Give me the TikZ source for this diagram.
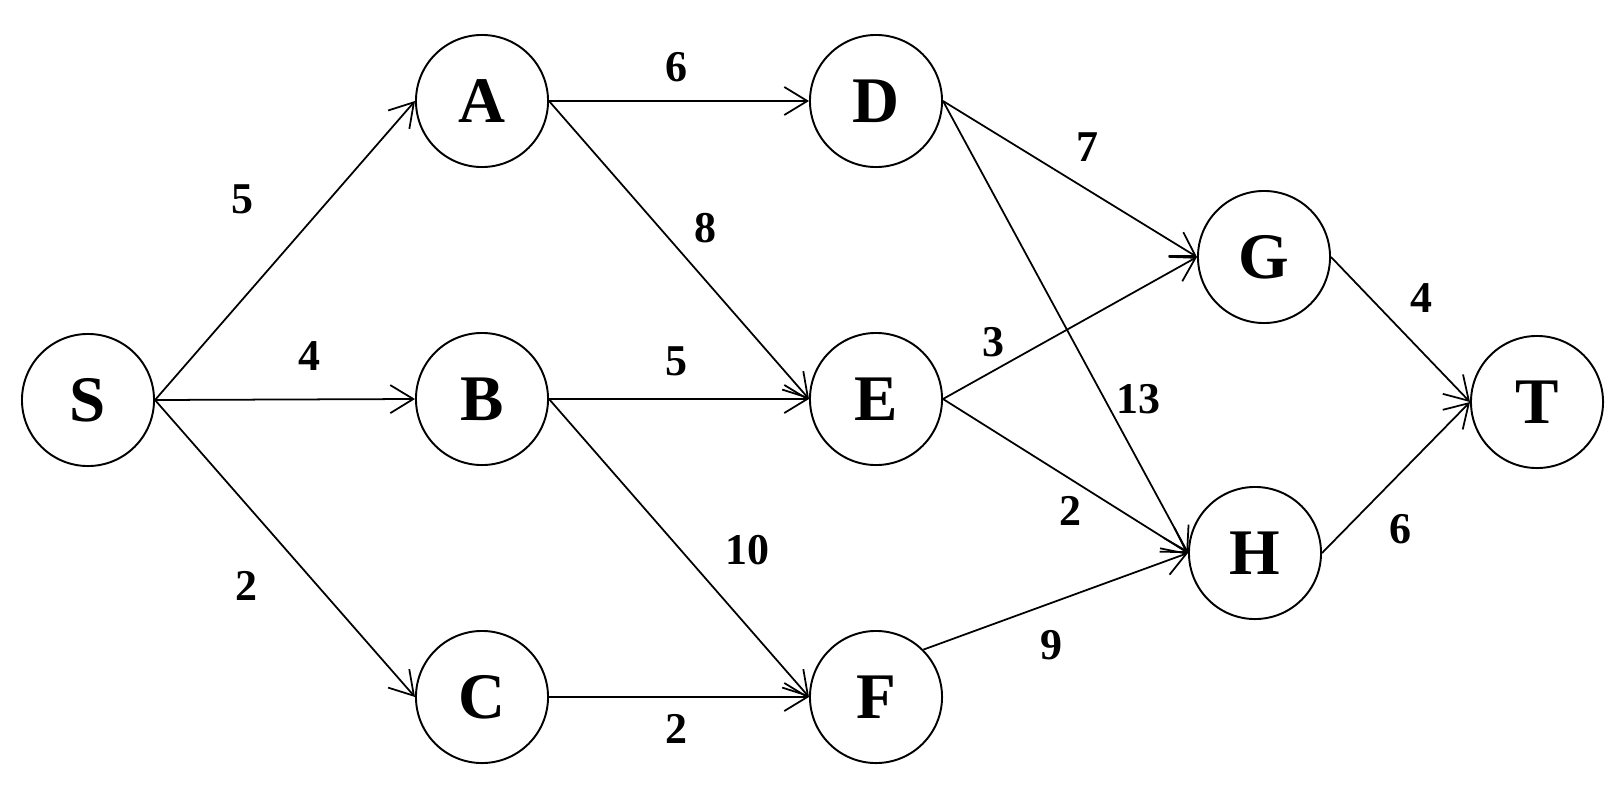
\documentclass[tikz,border=0pt]{standalone}
\usepackage{fontspec}
\setmainfont{Liberation Serif}
\usetikzlibrary{arrows.meta}

\begin{document}
\begin{tikzpicture}[x=0.01cm, y=-0.01cm, line width=0.5pt,
	vertex/.style={circle, draw, line width=0.55pt, minimum size=1.32cm, inner sep=0pt, font=\fontsize{18.5}{18.5}\selectfont\bfseries},
	weight/.style={inner sep=0pt, font=\fontsize{12.5}{13}\selectfont\bfseries},
	edge/.style={-{Straight Barb[length=2.3mm, width=2.8mm]}}]
			\useasboundingbox (0,0) rectangle (1624,800);
			\node[vertex] (S) at (88,400) {S};
			\node[vertex] (A) at (482,101) {A};
			\node[vertex] (B) at (482,399) {B};
			\node[vertex] (C) at (482,697) {C};
			\node[vertex] (D) at (876,101) {D};
			\node[vertex] (E) at (876,399) {E};
			\node[vertex] (F) at (876,697) {F};
			\node[vertex] (G) at (1264,257) {G};
			\node[vertex] (H) at (1255,553) {H};
			\node[vertex] (T) at (1537,402) {T};
			\draw[edge] (S.east) -- (A.west);
			\draw[edge] (S.east) -- (B.west);
			\draw[edge] (S.east) -- (C.west);
			\draw[edge] (A.east) -- (D.west);
			\draw[edge] (A.east) -- (E.west);
			\draw[edge] (B.east) -- (E.west);
			\draw[edge] (B.east) -- (F.west);
			\draw[edge] (C.east) -- (F.west);
			\draw[edge] (D.east) -- (G.west);
			\draw[edge] (D.east) -- (H.west);
			\draw[edge] (E.east) -- (G.west);
			\draw[edge] (E.east) -- (H.west);
			\draw[edge] (F.north east) -- (H.west);
			\draw[edge] (G.east) -- (T.west);
			\draw[edge] (H.east) -- (T.west);
			\node[weight] (wSA) at (242,199) {5};
			\node[weight] (wSB) at (309,356) {4};
			\node[weight] (wSC) at (246,586) {2};
			\node[weight] (wAD) at (676,67) {6};
			\node[weight] (wAE) at (705,228) {8};
			\node[weight] (wBE) at (676,361) {5};
			\node[weight] (wBF) at (747,550) {10};
			\node[weight] (wCF) at (676,729) {2};
			\node[weight] (wDG) at (1087,147) {7};
			\node[weight] (wDH) at (1138,399) {13};
			\node[weight] (wEG) at (993,342) {3};
			\node[weight] (wEH) at (1070,511) {2};
			\node[weight] (wFH) at (1051,645) {9};
			\node[weight] (wGT) at (1421,298) {4};
			\node[weight] (wHT) at (1400,529) {6};
		\end{tikzpicture}
\end{document}
